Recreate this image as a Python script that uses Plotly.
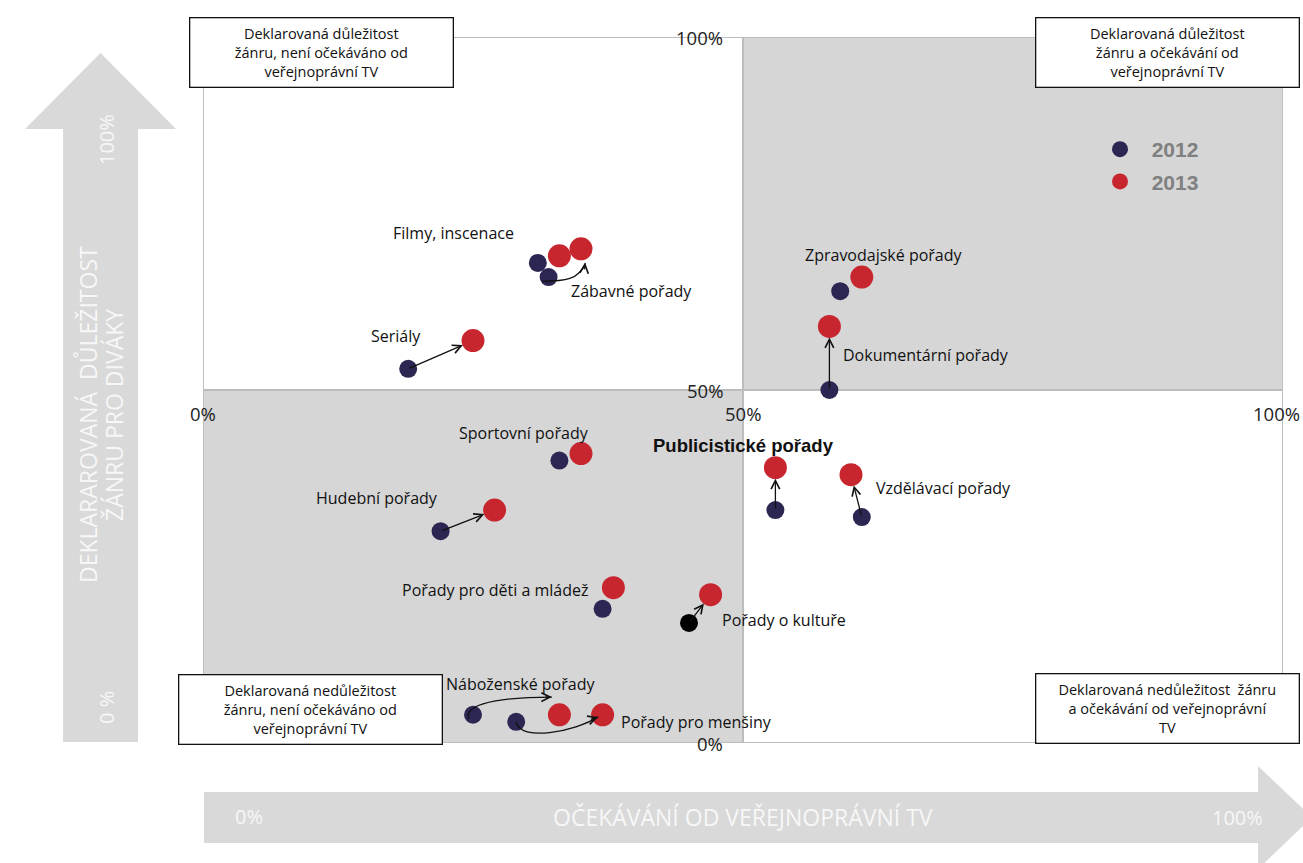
import plotly.graph_objects as go

# genres and their position (x = expectation from public TV, y = declared importance), in %
genres = [
    "Filmy, inscenace", "Zábavné pořady", "Seriály", "Zpravodajské pořady",
    "Dokumentární pořady", "Sportovní pořady", "Publicistické pořady",
    "Vzdělávací pořady", "Hudební pořady", "Pořady pro děti a mládež",
    "Pořady o kultuře", "Náboženské pořady", "Pořady pro menšiny",
]
x_2012 = [31, 32, 19, 59, 58, 33, 53, 61, 22, 37, 45, 25, 29]
y_2012 = [68, 66, 53, 64, 50, 40, 33, 32, 30, 19, 17, 4, 3]
x_2013 = [33, 35, 25, 61, 58, 35, 53, 60, 27, 38, 47, 33, 37]
y_2013 = [69, 70, 57, 66, 59, 41, 39, 38, 33, 22, 21, 4, 4]
years = ["2012", "2013"]

# genres whose shift is marked with a straight arrow
straight_arrows = ["Seriály", "Dokumentární pořady", "Publicistické pořady",
                   "Vzdělávací pořady", "Hudební pořady", "Pořady o kultuře"]

quadrant_notes = [
    "Deklarovaná důležitost<br>žánru, není očekáváno od<br>veřejnoprávní TV",
    "Deklarovaná důležitost<br>žánru a očekávání od<br>veřejnoprávní TV",
    "Deklarovaná nedůležitost<br>žánru, není očekáváno od<br>veřejnoprávní TV",
    "Deklarovaná nedůležitost  žánru<br>a očekávání od veřejnoprávní<br>TV",
]
y_title = ["DEKLARAROVANÁ  DŮLEŽITOST", "ŽÁNRU PRO DIVÁKY"]
x_title = "OČEKÁVÁNÍ OD VEŘEJNOPRÁVNÍ TV"

# label placement (layout only)
label_pos = {
    "Filmy, inscenace": (23.2, 72.2), "Zábavné pořady": (39.7, 64.0),
    "Seriály": (17.9, 57.6), "Zpravodajské pořady": (63.1, 69.1),
    "Dokumentární pořady": (66.9, 55.0), "Sportovní pořady": (29.7, 43.9),
    "Publicistické pořady": (50.0, 42.1), "Vzdělávací pořady": (68.6, 36.1),
    "Hudební pořady": (16.1, 34.7), "Pořady pro děti a mládež": (27.0, 21.7),
    "Pořady o kultuře": (53.8, 17.4), "Náboženské pořady": (29.4, 8.4),
    "Pořady pro menšiny": (45.7, 3.0),
}

NAVY = "#2b2652"
RED = "#c8262f"
GREY = "#d6d6d6"
LINE = "#bdbdbd"
FONT = "Open Sans"

W, H = 1303, 863
L, R, T, B = 203, 20, 37, 120
PW, PH = W - L - R, H - T - B


def px(x):
    return (x - L) / PW


def py(y):
    return (T + PH - y) / PH


fig = go.Figure()

colors_2012 = ["#000000" if g == "Pořady o kultuře" else NAVY for g in genres]
fig.add_trace(go.Scatter(x=x_2012, y=y_2012, mode="markers",
                         name=f"\u00a0\u00a0<b>{years[0]}</b>",
                         marker=dict(size=18, color=colors_2012),
                         text=genres, hoverinfo="text+x+y", legendgroup="a"))
fig.add_trace(go.Scatter(x=x_2013, y=y_2013, mode="markers",
                         name=f"\u00a0\u00a0<b>{years[1]}</b>",
                         marker=dict(size=23, color=RED),
                         text=genres, hoverinfo="text+x+y", legendgroup="b"))

shapes = []
# quadrant backgrounds
shapes.append(dict(type="rect", x0=50, x1=100, y0=50, y1=100, xref="x", yref="y",
                   fillcolor=GREY, line_width=0, layer="below"))
shapes.append(dict(type="rect", x0=0, x1=50, y0=0, y1=50, xref="x", yref="y",
                   fillcolor=GREY, line_width=0, layer="below"))
# frame and cross
shapes.append(dict(type="rect", x0=0, x1=100, y0=0, y1=100, xref="x", yref="y",
                   line=dict(color=LINE, width=2), layer="below"))
shapes.append(dict(type="line", x0=50, x1=50, y0=0, y1=100, xref="x", yref="y",
                   line=dict(color=LINE, width=2), layer="below"))
shapes.append(dict(type="line", x0=0, x1=100, y0=50, y1=50, xref="x", yref="y",
                   line=dict(color=LINE, width=2), layer="below"))

# big decorative axis arrows
up = [(63, 742), (63, 129), (25, 129), (100.5, 53), (176, 129), (138, 129), (138, 742)]
right = [(204, 792), (1258, 792), (1258, 766), (1312, 817.5), (1258, 869), (1258, 843), (204, 843)]
for pts in (up, right):
    path = "M " + " L ".join(f"{px(a):.4f},{py(b):.4f}" for a, b in pts) + " Z"
    shapes.append(dict(type="path", path=path, xref="paper", yref="paper",
                       fillcolor="#d9d9d9", line_width=0, layer="below"))

ann = []
ARROW = dict(showarrow=True, arrowhead=5, arrowsize=1.3, arrowwidth=1.3, arrowcolor="#111")
# straight arrows 2012 -> 2013
for i, g in enumerate(genres):
    if g in straight_arrows:
        ann.append(dict(x=x_2013[i], y=y_2013[i], ax=x_2012[i], ay=y_2012[i],
                        xref="x", yref="y", axref="x", ayref="y", text="",
                        standoff=11, **ARROW))


# curved arrows (offsets around the 2012 points)
def curve(i, p0, c1, c2, p3, head):
    x0, y0 = x_2012[i], y_2012[i]
    pts = [(x0 + a, y0 + b) for a, b in (p0, c1, c2, p3)]
    path = "M {:.2f},{:.2f} C {:.2f},{:.2f} {:.2f},{:.2f} {:.2f},{:.2f}".format(
        *[v for p in pts for v in p])
    shapes.append(dict(type="path", path=path, xref="x", yref="y",
                       line=dict(color="#111", width=1.3)))
    ann.append(dict(x=pts[3][0], y=pts[3][1], ax=head[0], ay=head[1],
                    xref="x", yref="y", text="", **ARROW))


ib = genres.index("Zábavné pořady")
curve(ib, (-0.6, -0.6), (1.5, -0.6), (2.8, -0.4), (3.4, 2.0), (-1, 8))
ib = genres.index("Náboženské pořady")
curve(ib, (-0.4, -0.6), (-1.0, 2.1), (4.3, 2.5), (7.3, 2.5), (-8, 0))
ib = genres.index("Pořady pro menšiny")
curve(ib, (0, 0), (0.35, -2.9), (5.4, -1.4), (7.6, 0.7), (-9, 3))

# genre labels
for g in genres:
    lx, ly = label_pos[g]
    bold = g == "Publicistické pořady"
    ann.append(dict(x=lx, y=ly, xref="x", yref="y", text=f"<b>{g}</b>" if bold else g,
                    showarrow=False, xanchor="center", yanchor="middle",
                    font=dict(family="Liberation Sans" if bold else FONT,
                              size=18.5 if bold else 16, color="#111")))

# percentage ticks at the cross
tick_font = dict(family=FONT, size=18.5, color="#222")
for v in (0, 50, 100):
    ann.append(dict(x=50, y=v, xref="x", yref="y", text=f"{v}%", showarrow=False,
                    xanchor="right", yanchor="middle", xshift=-18, font=tick_font))
    edge = v == 100
    ann.append(dict(x=v, y=50, xref="x", yref="y", text=f"{v}%", showarrow=False,
                    xanchor="right" if edge else "center", xshift=19 if edge else 0,
                    yanchor="middle", yshift=-23, font=tick_font))


def paper_text(x, y, text, font, **kw):
    ann.append(dict(x=px(x), y=py(y), xref="paper", yref="paper", text=text,
                    showarrow=False, xanchor="center", yanchor="middle",
                    font=font, **kw))


# quadrant note boxes
box_pos = [(321, 53), (1167, 53), (310.5, 709), (1167, 708.5)]
for note, (bx, by) in zip(quadrant_notes, box_pos):
    paper_text(bx, by, note, dict(family=FONT, size=14.5, color="#111"),
               width=258, height=64, borderpad=2, bordercolor="#111",
               borderwidth=1.3, bgcolor="white")

# texts on the decorative arrows
white = dict(family=FONT, size=23, color="#f7f7f7")
paper_text(88, 415, y_title[0], white, textangle=-90)
paper_text(114, 415, y_title[1], white, textangle=-90)
paper_text(107, 140, "100%", dict(white, size=20), textangle=-90)
paper_text(106, 708, "0 %", dict(white, size=20), textangle=-90)
paper_text(743, 817, x_title, white)
paper_text(249, 816, "0%", dict(white, size=20))
paper_text(1237, 817, "100%", dict(white, size=20))

fig.update_layout(
    width=W, height=H,
    margin=dict(l=L, r=R, t=T, b=B),
    paper_bgcolor="white", plot_bgcolor="white",
    xaxis=dict(range=[0, 100], visible=False, fixedrange=True),
    yaxis=dict(range=[0, 100], visible=False, fixedrange=True),
    shapes=shapes, annotations=ann,
    showlegend=True,
    legend=dict(x=px(1100), y=py(129), xanchor="left", yanchor="top",
                bgcolor="rgba(0,0,0,0)", itemsizing="trace",
                font=dict(family="Liberation Sans", size=21, color="#808080"),
                tracegroupgap=2),
)

fig.write_html("out.html", config={"displayModeBar": False},
               post_script="document.body.style.margin='0';")
